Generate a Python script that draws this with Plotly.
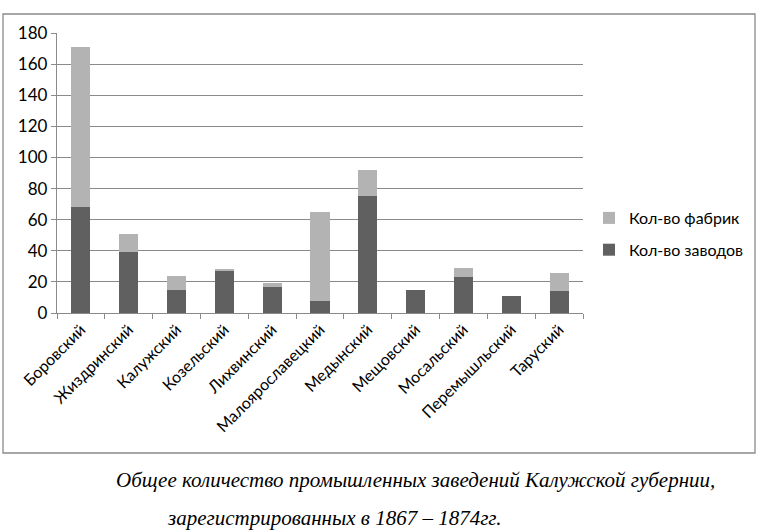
import plotly.graph_objects as go

# уезды Калужской губернии
uezdy = ["Боровский", "Жиздринский", "Калужский", "Козельский", "Лихвинский",
         "Малоярославецкий", "Медынский", "Мещовский", "Мосальский",
         "Перемышльский", "Таруский"]
zavody = [68, 39, 15, 27, 17, 8, 75, 15, 23, 11, 14]
fabriki = [103, 12, 9, 1, 2, 57, 17, 0, 6, 0, 12]

W, H = 762, 532
L, R, T, B = 57, 583, 33, 313   # plot area in px


def px_x(x):
    return (x - L) / (R - L)


def px_y(y):
    return (B - y) / (B - T)


fig = go.Figure()
fig.add_trace(go.Bar(x=uezdy, y=zavody, name="Кол-во заводов", legendgroup="z",
                     legendrank=2, marker=dict(color="#606060", line_width=0)))
fig.add_trace(go.Bar(x=uezdy, y=fabriki, name="Кол-во фабрик", legendgroup="f",
                     legendrank=1, marker=dict(color="#b3b3b3", line_width=0)))

fig.update_layout(
    width=W, height=H,
    barmode="stack", bargap=0.6,
    margin=dict(l=L, r=W - R, t=T, b=H - B, autoexpand=False),
    paper_bgcolor="white", plot_bgcolor="white",
    font=dict(family="Lato", size=16, color="black"),
    legend=dict(x=px_x(589), y=px_y(201), xanchor="left", yanchor="top",
                traceorder="grouped", tracegroupgap=8,
                font=dict(size=16), itemwidth=30),
    showlegend=True,
)
fig.update_yaxes(range=[0, 180], dtick=20, showgrid=True, gridcolor="#8a8a8a",
                 gridwidth=1.3, showline=True, linecolor="#8a8a8a", linewidth=1.3,
                 ticks="outside", ticklen=5, tickcolor="#8a8a8a",
                 zeroline=False, tickfont=dict(size=17))
fig.update_xaxes(showline=True, linecolor="#8a8a8a", linewidth=1.3,
                 ticks="outside", tickson="boundaries", ticklen=5,
                 tickcolor="#8a8a8a", tickangle=-45, tickfont=dict(size=16))

# рамка диаграммы
fig.add_shape(type="rect", xref="paper", yref="paper",
              x0=px_x(3), x1=px_x(755), y0=px_y(453), y1=px_y(14),
              line=dict(color="#8a8a8a", width=1.3))

# подпись
fig.add_annotation(xref="paper", yref="paper", x=px_x(114), y=px_y(480),
                   xanchor="left", yanchor="middle", showarrow=False,
                   text="<i>Общее количество промышленных заведений Калужской губернии,</i>",
                   font=dict(family="Liberation Serif", size=21, color="black"))
fig.add_annotation(xref="paper", yref="paper", x=px_x(165), y=px_y(518),
                   xanchor="left", yanchor="middle", showarrow=False,
                   text="<i>зарегистрированных в 1867 – 1874гг.</i>",
                   font=dict(family="Liberation Serif", size=21, color="black"))

# убрать поля страницы, чтобы рисунок встал в окно 762x532 целиком
fig.write_html("out.html", config={"displayModeBar": False},
               post_script="document.body.style.margin='0';"
                           "document.body.style.overflow='hidden';")
